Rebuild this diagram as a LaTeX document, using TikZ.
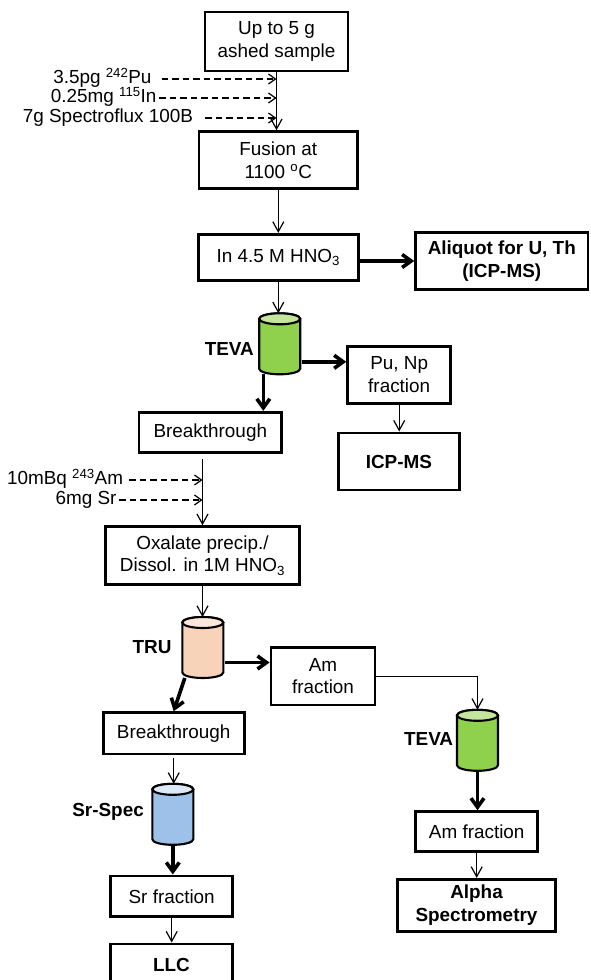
\documentclass[tikz,border=0pt]{standalone}
\usepackage{fontspec}
\setmainfont{Liberation Sans}
\usetikzlibrary{arrows.meta}
\definecolor{tevabody}{HTML}{8FD04C}
\definecolor{tevatop}{HTML}{C4E59C}
\definecolor{trubody}{HTML}{F7D3BA}
\definecolor{trutop}{HTML}{FBE7DA}
\definecolor{srbody}{HTML}{9EC1EA}
\definecolor{srtop}{HTML}{DCE9F7}
\tikzset{
  box/.style={draw, line width=2.9pt, inner sep=0pt, align=center, font=\fontsize{18.9}{22.5}\selectfont},
  bbox/.style={box, font=\fontsize{18.9}{22.5}\selectfont\bfseries},
  col/.style={inner sep=0pt, outer sep=0pt, minimum width=41pt, minimum height=61pt},
  lbl/.style={inner sep=0pt, anchor=east, text height=13pt, text depth=4pt, font=\fontsize{18.9}{22.5}\selectfont},
  collbl/.style={inner sep=0pt, anchor=east, font=\fontsize{18.9}{22.5}\selectfont\bfseries},
  thinarrow/.style={line width=1.2pt, -{Straight Barb[length=10pt,width=11pt]}},
  thickarrow/.style={line width=3.6pt, -{Straight Barb[length=9pt,width=13pt]}},
  dsh/.style={line width=1.2pt, dash pattern=on 6.5pt off 4pt, -{Straight Barb[length=7pt,width=10pt]}},
}
\newcommand\colshape[3]{%
  \path[draw=black, line width=2.1pt, fill=#2]
    ([yshift=-5.5pt]#1.north west) -- ([yshift=5.5pt]#1.south west)
    arc[start angle=180, end angle=360, x radius=20.5pt, y radius=5.5pt]
    -- ([yshift=-5.5pt]#1.north east)
    arc[start angle=0, end angle=180, x radius=20.5pt, y radius=5.5pt] -- cycle;
  \path[draw=black, line width=2.1pt, fill=#3] ([yshift=-5.5pt]#1.north) ellipse[x radius=20.5pt, y radius=5.5pt];
}
\begin{document}
\begin{tikzpicture}[x=1pt,y=-1pt]
\useasboundingbox (0,0) rectangle (590,980);
\clip (0,0) rectangle (590,980);
\fill[white] (0,0) rectangle (590,980);

% boxes
\node[box, minimum width=143pt, minimum height=59pt] (up) at (276.5,41.5) {Up to 5 g\\ashed sample};
\node[box, minimum width=158.7pt, minimum height=56.6pt] (fus) at (278.3,160) {Fusion at\\1100 \textsuperscript{o}C};
\node[box, minimum width=160pt, minimum height=45.7pt] (inh) at (278.3,257.2) {In 4.5 M HNO\textsubscript{3}};
\node[bbox, minimum width=172.3pt, minimum height=56.6pt] (aliq) at (501.8,261) {Aliquot for U, Th\\(ICP-MS)};
\node[col] (teva1) at (279.7,343.8) {};
\node[box, minimum width=103pt, minimum height=57.3pt] (punp) at (399.2,374.7) {Pu, Np\\fraction};
\node[bbox, minimum width=120.8pt, minimum height=57pt] (icp) at (398.9,461.5) {ICP-MS};
\node[box, minimum width=142.7pt, minimum height=40pt] (bt1) at (210.3,432.3) {Breakthrough};
\node[box, minimum width=193.6pt, minimum height=57.8pt] (ox) at (202.5,555.6) {Oxalate precip./\\Dissol. in 1M HNO\textsubscript{3}};
\node[col] (tru) at (202.8,647.5) {};
\node[box, minimum width=104pt, minimum height=57.3pt] (amf1) at (323,676.3) {Am\\fraction};
\node[box, minimum width=140.7pt, minimum height=41.3pt] (bt2) at (173.7,733.3) {Breakthrough};
\node[col] (srs) at (172.8,814.3) {};
\node[box, minimum width=122pt, minimum height=40.7pt] (srf) at (171.7,896.3) {Sr fraction};
\node[bbox, minimum width=122.7pt, minimum height=41pt] (llc) at (171.4,964.5) {LLC};
\node[col] (teva2) at (477.5,740.3) {};
\node[box, minimum width=122pt, minimum height=40pt] (amf2) at (476.7,831.7) {Am fraction};
\node[bbox, minimum width=158.4pt, minimum height=51.7pt] (alpha) at (476.5,905.2) {Alpha\\Spectrometry};

% column labels
\node[collbl] (lteva1) at (254,349) {TEVA};
\node[collbl] (ltru) at (171.7,646.7) {TRU};
\node[collbl] (lsrs) at (144,811.7) {Sr-Spec};
\node[collbl] (lteva2) at (453.3,739) {TEVA};

% additions
\node[lbl] (l1) at (151.7,79) {3.5pg \textsuperscript{242}Pu};
\node[lbl] (l2) at (156.7,98) {0.25mg \textsuperscript{115}In};
\node[lbl] (l3) at (193.3,118) {7g Spectroflux 100B};
\node[lbl] (l4) at (123.3,480) {10mBq \textsuperscript{243}Am};
\node[lbl] (l5) at (116.7,500) {6mg Sr};
\coordinate (d1) at (276.5,79);
\coordinate (d2) at (276.5,98);
\coordinate (d3) at (276.5,118);
\coordinate (d4) at (202.5,480);
\coordinate (d5) at (202.5,500);
\draw[dsh] ([xshift=10pt]l1.east) -- (d1);
\draw[dsh] ([xshift=2.5pt]l2.east) -- (d2);
\draw[dsh] ([xshift=11.7pt]l3.east) -- (d3);
\draw[dsh] ([xshift=5.7pt]l4.east) -- (d4);
\draw[dsh] ([xshift=2.3pt]l5.east) -- (d5);

% connectors
\draw[thinarrow] (up.south) -- (up.south |- fus.north);
\draw[thinarrow] (fus.south) -- (fus.south |- inh.north);
\draw[thickarrow] (inh.east |- aliq.west) -- (aliq.west);
\draw[thinarrow] (inh.south) -- (inh.south |- teva1.north);
\coordinate (t1r) at ([xshift=1.5pt,yshift=-18pt]teva1.east);
\draw[thickarrow] (t1r) -- (t1r -| punp.west);
\coordinate (t1b) at ([xshift=-16.4pt]teva1.south);
\draw[thickarrow] (t1b) -- (t1b |- bt1.north);
\draw[thinarrow] (punp.south) -- (punp.south |- icp.north);
\coordinate (b1s) at ([yshift=-5pt]bt1.south);
\draw[thinarrow] (b1s -| ox.north) -- (ox.north);
\draw[thinarrow] (ox.south) -- (ox.south |- tru.north);
\coordinate (trr) at ([xshift=2pt,yshift=-15pt]tru.east);
\draw[thickarrow] (trr) -- (trr -| amf1.west);
\coordinate (trb) at ([xshift=-18pt]tru.south);
\draw[thickarrow] (trb) -- (bt2.north);
\draw[thinarrow] (amf1.east) -| (teva2.north);
\coordinate (b2s) at ([yshift=-2.5pt]bt2.south);
\draw[thinarrow] (b2s) -- (b2s |- srs.north);
\draw[thickarrow] (srs.south) -- (srs.south |- srf.north);
\draw[thinarrow] (srf.south) -- (srf.south |- llc.north);
\draw[thickarrow] (teva2.south) -- (teva2.south |- amf2.north);
\draw[thinarrow] (amf2.south) -- (amf2.south |- alpha.north);

% columns
\colshape{teva1}{tevabody}{tevatop}
\colshape{tru}{trubody}{trutop}
\colshape{srs}{srbody}{srtop}
\colshape{teva2}{tevabody}{tevatop}
\end{tikzpicture}
\end{document}
